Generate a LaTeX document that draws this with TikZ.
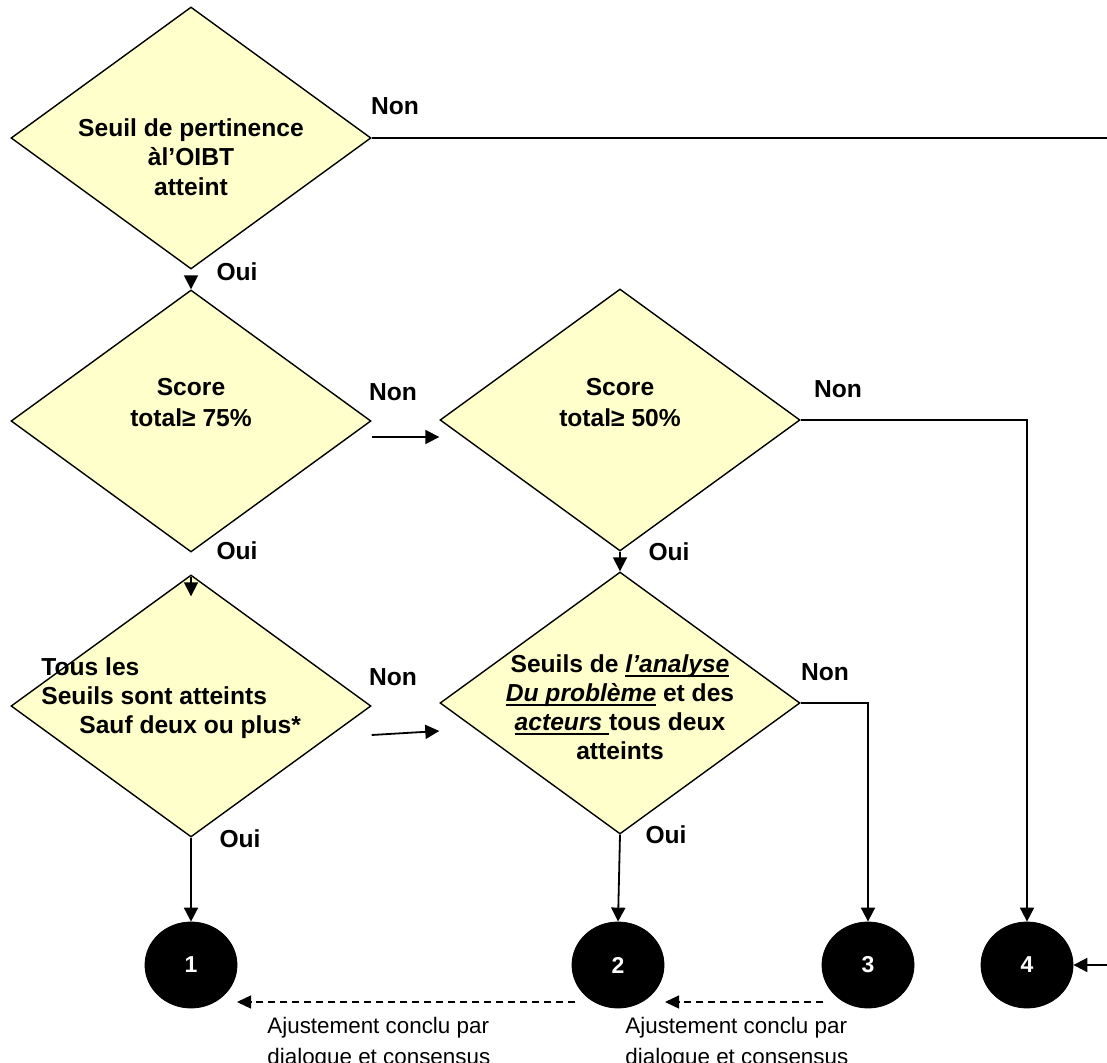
\documentclass[tikz,border=0pt]{standalone}
\usepackage{fontspec}
\setmainfont{Liberation Sans}
\usetikzlibrary{shapes.geometric,arrows.meta}
\definecolor{dfill}{HTML}{FFFFCC}
\newcommand\myul[1]{\setbox0\hbox{#1}\rlap{\rule[-2.2pt]{\wd0}{0.8pt}}\box0\relax}
\begin{document}
\begin{tikzpicture}[x=0.5pt,y=-0.5pt,
  dec/.style={diamond, draw=black, line width=0.7pt, fill=dfill, minimum width=180pt, minimum height=131pt, inner sep=0pt, aspect=1.38},
  term/.style={ellipse, fill=black, draw=black, minimum width=46pt, minimum height=43pt, inner sep=0pt, text=white, font=\bfseries\fontsize{11.5}{13}\selectfont},
  txt/.style={font=\bfseries\fontsize{12.3}{14.75}\selectfont, align=center, inner sep=0pt},
  lab/.style={font=\bfseries\fontsize{12.3}{14}\selectfont, inner sep=0pt},
  conn/.style={line width=0.9pt, -{Triangle[length=7pt,width=7pt]}},
  link/.style={line width=0.9pt},
  adj/.style={line width=0.65pt, dash pattern=on 3.5pt off 2.5pt, -{Triangle[length=7pt,width=6.5pt]}},
  adjnote/.style={font=\fontsize{11.2}{15.5}\selectfont, align=left, inner sep=0pt, anchor=north west}
]
\useasboundingbox (0,0) rectangle (1107,1063);

% decisions
\node[dec] (d1) at (191,138) {};
\node[dec] (d2) at (191,421) {};
\node[dec] (d3) at (620,420) {};
\node[dec] (d4) at (191,706) {};
\node[dec] (d5) at (620,703) {};

% texts
\node[txt] (t1) at (191,157) {Seuil de pertinence\\àl’OIBT\\atteint};
\node[txt, font=\bfseries\fontsize{12.3}{15.5}\selectfont] (t2) at (191,403) {Score\\total≥ 75\%};
\node[txt, font=\bfseries\fontsize{12.3}{15.5}\selectfont] (t3) at (620,403) {Score\\total≥ 50\%};
\node[txt, align=left, anchor=north west, font=\bfseries\fontsize{12.3}{14.5}\selectfont] (t4) at (41,657) {Tous les\\Seuils sont atteints\\\hspace*{19pt}Sauf deux ou plus*};
\node[txt, font=\bfseries\fontsize{12.3}{14.5}\selectfont] (t5) at (620,707) {Seuils de \myul{\textit{l’analyse}}\\\myul{\textit{Du problème}} et des\\\myul{\textit{acteurs }}tous deux\\atteints};

% labels
\node[lab] (n1) at (395,106) {Non};
\node[lab] (o1) at (237,272) {Oui};
\node[lab] (n2) at (393,392) {Non};
\node[lab] (o2) at (237,551) {Oui};
\node[lab] (n3) at (838,389) {Non};
\node[lab] (o3) at (669,552) {Oui};
\node[lab] (n4) at (393,677) {Non};
\node[lab] (o4) at (240,839) {Oui};
\node[lab] (n5) at (825,672) {Non};
\node[lab] (o5) at (666,835) {Oui};

% terminals
\node[term] (c1) at (191,965) {1};
\node[term] (c2) at (618,965) {2};
\node[term] (c3) at (868,965) {3};
\node[term] (c4) at (1027,965) {4};

% connectors
\coordinate (r1) at (1107,138);
\draw[link, line width=1.35pt] (d1.east) -- (r1);
\draw[conn] ([yshift=-6pt]d1.south) -- (d2.north);
\draw[conn] ([yshift=-8pt]d2.east) -- ([yshift=-8.5pt]d3.west);
\draw[conn] ([yshift=-12pt]d2.south) -- ([yshift=-11pt]d4.north);
\draw[conn] (d3.south) -- (d5.north);
\draw[conn] ([yshift=-14.5pt]d4.east) -- ([yshift=-14pt]d5.west);
\draw[conn] (d3.east) -| (c4.north);
\draw[conn] (d5.east) -| (c3.north);
\draw[conn] (d4.south) -- (c1.north);
\draw[conn] (d5.south) -- (c2.north);
\coordinate (r4) at (1107,965);
\draw[conn] (r4) -- (c4.east);

% adjustments
\coordinate (j1s) at (575,1002);
\coordinate (j1e) at (237,1002);
\coordinate (j2s) at (823,1002);
\coordinate (j2e) at (665,1002);
\draw[adj] (j1s) -- (j1e);
\draw[adj] (j2s) -- (j2e);
\node[adjnote] (m1) at (267,1017) {Ajustement conclu par\\dialogue et consensus};
\node[adjnote] (m2) at (625,1017) {Ajustement conclu par\\dialogue et consensus};
\end{tikzpicture}
\end{document}
